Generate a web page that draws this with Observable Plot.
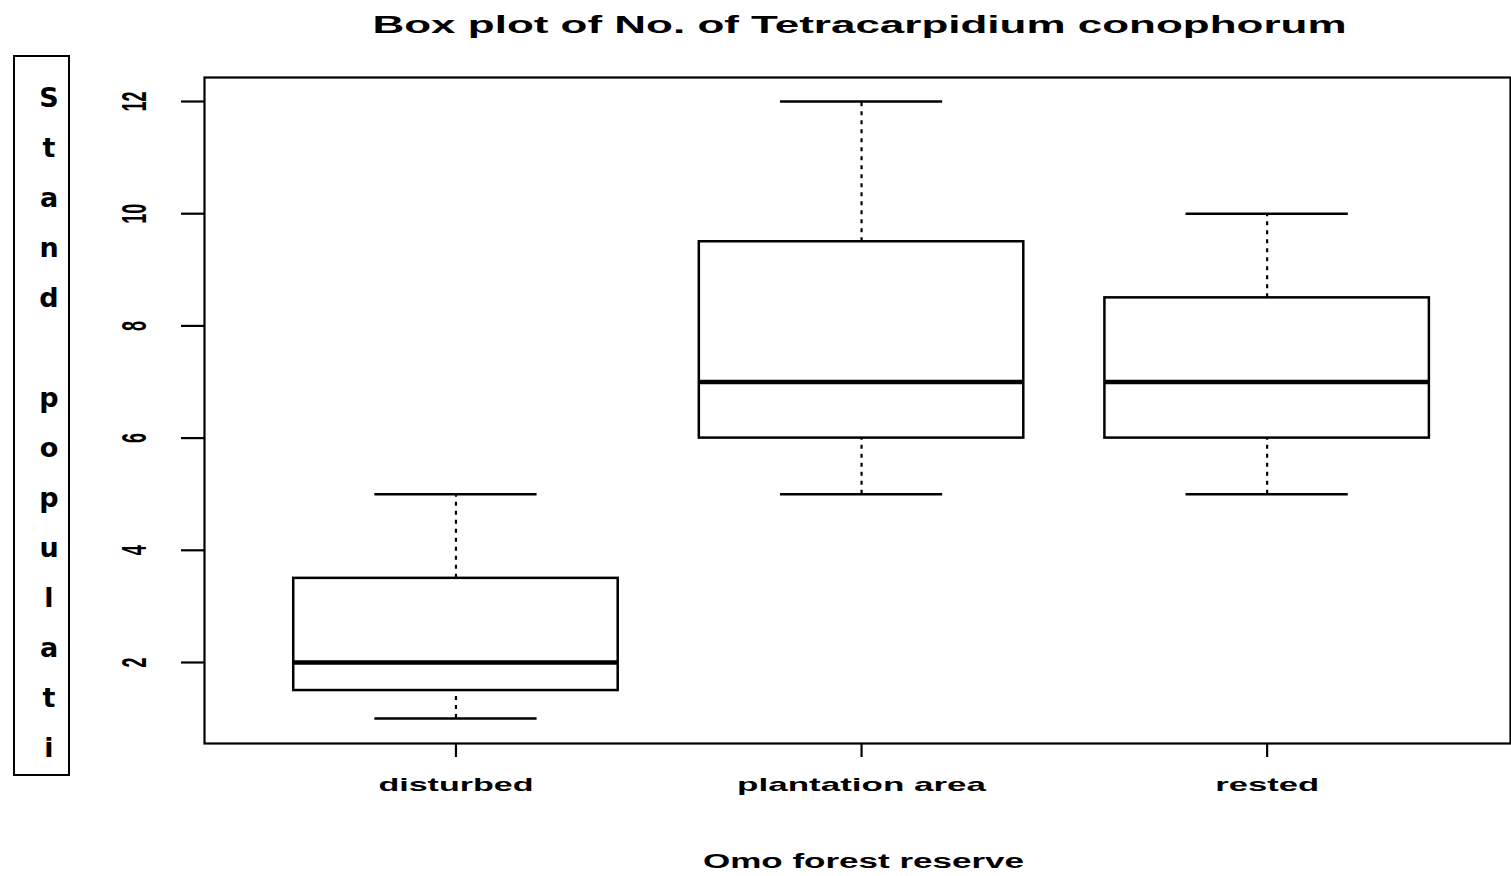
<!DOCTYPE html>
<html>
<head>
<meta charset="utf-8">
<script src="https://cdn.jsdelivr.net/npm/d3@7"></script>
<script src="https://cdn.jsdelivr.net/npm/@observablehq/plot@0.6"></script>
<style>
  html, body { margin: 0; padding: 0; background: #fff; }
  #wrap { position: relative; width: 1511px; height: 876px; overflow: hidden; background: #fff; }
  #wrap svg { position: absolute; left: 0; top: 0; }
  #ybox { position: absolute; left: 13px; top: 55px; width: 57px; height: 721px; box-sizing: border-box; border: 2px solid #000; }
  #yletters { position: absolute; left: 29px; top: 73px; width: 40px; font-family: "DejaVu Sans", sans-serif; font-weight: bold; font-size: 27px; line-height: 50px; text-align: center; color: #000; }
  #yletters div { height: 50px; }
</style>
</head>
<body>
<div id="wrap"></div>
<script>
// ---- data ----
const categories = ["disturbed", "plantation area", "rested"];
const whiskerLow = [1, 5, 5];
const lowerQuartile = [1.5, 6, 6];
const medians = [2, 7, 7];
const upperQuartile = [3.5, 9.5, 8.5];
const whiskerHigh = [5, 12, 10];
const yTicks = [2, 4, 6, 8, 10, 12];
const titleText = "Box plot of No. of Tetracarpidium conophorum";
const xTitle = "Omo forest reserve";
const yTitle = "Stand populati";

const rows = categories.map((c, i) => ({
  pos: i + 1, cat: c,
  lo: whiskerLow[i], q1: lowerQuartile[i], med: medians[i], q3: upperQuartile[i], hi: whiskerHigh[i]
}));
const BOX = 0.4, CAP = 0.2;

const chart = Plot.plot({
  width: 1511, height: 876,
  marginLeft: 204, marginRight: 1, marginTop: 77, marginBottom: 133,
  style: { fontFamily: "'Liberation Sans', Arial, sans-serif", background: "#fff", color: "#000", overflow: "visible" },
  x: { type: "linear", domain: [0.38, 3.6], label: null },
  y: { domain: [0.556, 12.428], label: null },
  marks: [
    Plot.ruleX(rows, { x: "pos", y1: "q3", y2: "hi", stroke: "#000", strokeWidth: 2.2, strokeDasharray: "4,5" }),
    Plot.ruleX(rows, { x: "pos", y1: "lo", y2: "q1", stroke: "#000", strokeWidth: 2.2, strokeDasharray: "4,5" }),
    Plot.ruleY(rows, { y: "hi", x1: d => d.pos - CAP, x2: d => d.pos + CAP, stroke: "#000", strokeWidth: 2.5 }),
    Plot.ruleY(rows, { y: "lo", x1: d => d.pos - CAP, x2: d => d.pos + CAP, stroke: "#000", strokeWidth: 2.5 }),
    Plot.rect(rows, { x1: d => d.pos - BOX, x2: d => d.pos + BOX, y1: "q1", y2: "q3", fill: "#fff", stroke: "#000", strokeWidth: 2.5 }),
    Plot.ruleY(rows, { y: "med", x1: d => d.pos - BOX, x2: d => d.pos + BOX, stroke: "#000", strokeWidth: 4.5 }),
    Plot.frame({ stroke: "#000", strokeWidth: 2.2 }),
    Plot.axisY({ ticks: yTicks, tickSize: 23, tickFormat: () => "", strokeWidth: 2.2, label: null }),
    Plot.text(yTicks, { y: d => d, text: d => String(d), frameAnchor: "left", dx: -69, rotate: -90,
      textAnchor: "middle", lineAnchor: "middle", fontSize: 18, fontWeight: "bold" }),
    Plot.axisX({ ticks: [1, 2, 3], tickFormat: d => categories[d - 1], tickSize: 14, tickPadding: 20,
      fontSize: 19, fontWeight: "bold", strokeWidth: 2.2, label: null }),
    Plot.text([titleText], { text: d => d, frameAnchor: "top", dx: 2, dy: -45, lineAnchor: "bottom",
      fontSize: 24, fontWeight: "bold" }),
    Plot.text([xTitle], { text: d => d, frameAnchor: "bottom", dx: 6, dy: 124, lineAnchor: "bottom",
      fontSize: 20, fontWeight: "bold" })
  ]
});

// widen text as in the reference (horizontally stretched lettering)
const stretch = {
  "disturbed": 155, "plantation area": 249, "rested": 104,
  [titleText]: 974, [xTitle]: 321
};
const tickStrings = new Set(yTicks.map(String));
chart.querySelectorAll("text").forEach(t => {
  const s = t.textContent;
  if (stretch[s]) {
    t.setAttribute("textLength", stretch[s]);
    t.setAttribute("lengthAdjust", "spacingAndGlyphs");
  } else if (tickStrings.has(s) && (t.getAttribute("transform") || "").includes("rotate")) {
    t.setAttribute("transform", t.getAttribute("transform") + " scale(1,1.9)");
  }
});

const wrap = document.getElementById("wrap");
wrap.append(chart);

const box = document.createElement("div");
box.id = "ybox";
wrap.append(box);
const letters = document.createElement("div");
letters.id = "yletters";
for (const ch of yTitle) {
  const d = document.createElement("div");
  d.textContent = ch === " " ? "\u00a0" : ch;
  letters.append(d);
}
wrap.append(letters);
</script>
</body>
</html>
